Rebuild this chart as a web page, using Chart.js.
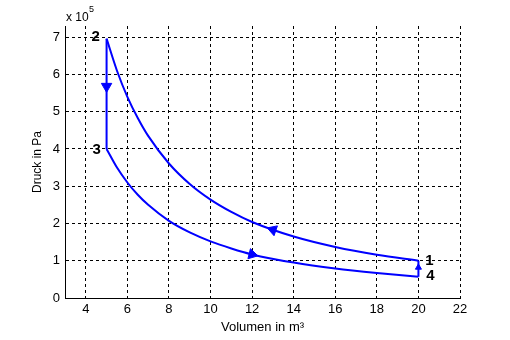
<!DOCTYPE html>
<html>
<head>
    <title>p-V Diagramm</title>
    <script src="https://cdn.jsdelivr.net/npm/chart.js"></script>
    <style>
        body { margin: 0; background: #fff; }
        #wrap { width: 510px; height: 340px; }
    </style>
</head>
<body>
    <div id="wrap"><canvas id="pvChart" width="510" height="340"></canvas></div>

    <script>
        // values, pressure in 10^5 Pa
        const upperV = [5, 5.5, 6, 6.5, 7, 8, 9, 10, 11, 12, 14, 16, 18, 20];
        const upperP = [6.96, 6.10, 5.40, 4.83, 4.35, 3.61, 3.06, 2.64, 2.31, 2.04, 1.65, 1.37, 1.16, 1.00];
        const lowerV = [5, 5.5, 6, 6.5, 7, 8, 9, 10, 11, 12, 14, 16, 18, 20];
        const lowerP = [4.00, 3.50, 3.10, 2.77, 2.50, 2.07, 1.76, 1.52, 1.33, 1.17, 0.95, 0.79, 0.67, 0.57];

        // state points 1..4
        const pointNames = ['1', '2', '3', '4'];
        const pointV = [20, 5, 5, 20];
        const pointP = [1.00, 6.96, 4.00, 0.57];

        // direction arrows on the cycle
        const arrowV = [5, 13, 12, 20];
        const arrowP = [5.68, 1.83, 1.17, 0.82];
        const arrowAngle = [180, 289, 104, 0];

        const xTicks = [4, 6, 8, 10, 12, 14, 16, 18, 20, 22];
        const yTicks = [0, 1, 2, 3, 4, 5, 6, 7];

        const blue = 'rgb(0,0,255)';
        const font = "'Liberation Sans', Arial, sans-serif";

        const toXY = (xs, ys) => xs.map((x, i) => ({ x: x, y: ys[i] }));

        const labelPlugin = {
            id: 'pvLabels',
            afterDraw(chart) {
                const c = chart.ctx;
                const xs = chart.scales.x, ys = chart.scales.y;
                const offs = [[11, 0], [-11, -2], [-10, 1], [12, -1]];
                c.save();
                c.fillStyle = '#000';
                c.font = 'bold 15px ' + font;
                c.textAlign = 'center';
                c.textBaseline = 'middle';
                pointNames.forEach((n, i) => {
                    c.fillText(n, xs.getPixelForValue(pointV[i]) + offs[i][0],
                        ys.getPixelForValue(pointP[i]) + offs[i][1]);
                });
                // exponent label
                c.textAlign = 'left';
                c.textBaseline = 'alphabetic';
                c.font = '12px ' + font;
                c.fillText('x 10', 66, 21);
                c.font = '9px ' + font;
                c.fillText('5', 89, 12);
                c.restore();
            }
        };

        const lineOpts = {
            borderColor: blue,
            borderWidth: 2,
            pointRadius: 0,
            fill: false,
            showLine: true
        };

        const ctx = document.getElementById('pvChart').getContext('2d');
        const chart = new Chart(ctx, {
            type: 'scatter',
            data: {
                datasets: [
                    Object.assign({ data: toXY(upperV, upperP), cubicInterpolationMode: 'monotone' }, lineOpts),
                    Object.assign({ data: toXY(lowerV, lowerP), cubicInterpolationMode: 'monotone' }, lineOpts),
                    Object.assign({ data: toXY([pointV[1], pointV[2]], [pointP[1], pointP[2]]) }, lineOpts),
                    Object.assign({ data: toXY([pointV[3], pointV[0]], [pointP[3], pointP[0]]) }, lineOpts),
                    {
                        data: toXY(arrowV, arrowP),
                        showLine: false,
                        pointStyle: 'triangle',
                        pointRadius: [6, 6, 6, 3.5],
                        rotation: arrowAngle,
                        backgroundColor: blue,
                        borderColor: blue,
                        borderWidth: 1
                    }
                ]
            },
            options: {
                responsive: false,
                animation: false,
                layout: { padding: { left: 0, right: 50, top: 26, bottom: 0 } },
                plugins: {
                    legend: { display: false },
                    tooltip: { enabled: false }
                },
                scales: {
                    x: {
                        type: 'linear',
                        min: 3,
                        max: 22,
                        afterFit: s => { s.height = 42; },
                        afterBuildTicks: s => { s.ticks = xTicks.map(v => ({ value: v })); },
                        grid: { color: '#000', lineWidth: 1, drawTicks: false },
                        border: { display: true, color: '#000', width: 1, dash: [3, 3] },
                        ticks: { color: '#000', padding: 4, font: { family: font, size: 13 } },
                        title: {
                            display: true,
                            text: 'Volumen in m³',
                            color: '#000',
                            font: { family: font, size: 13 },
                            padding: { top: 0, bottom: 5 }
                        }
                    },
                    y: {
                        type: 'linear',
                        min: 0,
                        max: 7.3,
                        afterFit: s => { s.width = 65; },
                        afterBuildTicks: s => { s.ticks = yTicks.map(v => ({ value: v })); },
                        grid: { color: '#000', lineWidth: 1, drawTicks: false },
                        border: { display: true, color: '#000', width: 1, dash: [3, 3] },
                        ticks: { color: '#000', padding: 5, font: { family: font, size: 13 } },
                        title: {
                            display: true,
                            text: 'Druck in Pa',
                            color: '#000',
                            font: { family: font, size: 12 },
                            padding: { top: 30, bottom: 0 }
                        }
                    }
                }
            },
            plugins: [labelPlugin]
        });
    </script>
</body>
</html>
